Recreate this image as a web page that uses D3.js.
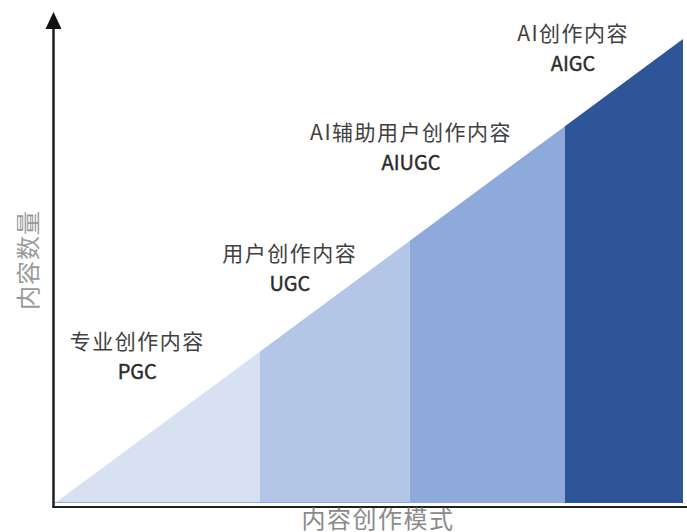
<!DOCTYPE html>
<html>
<head>
<meta charset="utf-8">
<script src="https://cdn.jsdelivr.net/npm/d3@7"></script>
<style>
  html, body { margin: 0; padding: 0; background: #fff; }
  svg { display: block; }
  text { font-family: "Noto Sans CJK SC", "Noto Sans", sans-serif; }
</style>
</head>
<body>
<div id="chart"></div>
<script>
// ---------- Data ----------
const modes = ['PGC', 'UGC', 'AIUGC', 'AIGC'];
const modeNames = ['专业创作内容', '用户创作内容', 'AI辅助用户创作内容', 'AI创作内容'];
// band edges along the "content creation mode" axis (0..100)
const bandEdges = [0, 32.6, 56.5, 81.2, 100];
// content quantity reached at each edge (grows linearly)
const quantityAtEdge = [0, 32.6, 56.5, 81.2, 100];
const bandColors = ['#d7e1f1', '#b4c6e7', '#8eaadb', '#2e5597'];
// label anchors (data units)
const labelX = [13.1, 37.4, 56.7, 82.5];
const labelY = [33.2, 52.2, 78.2, 99.6];
const xTitle = '内容创作模式';
const yTitle = '内容数量';

// ---------- Layout ----------
const W = 687, H = 532;
const svg = d3.select('#chart').append('svg').attr('width', W).attr('height', H);

const x = d3.scaleLinear().domain([0, 100]).range([55, 683]);
const y = d3.scaleLinear().domain([0, 100]).range([503, 39]);

// ---------- Bands ----------
const area = d3.area()
  .x(d => x(d.x))
  .y0(y(0))
  .y1(d => y(d.q));

const bands = modes.map((m, i) => ({
  mode: m,
  pts: [
    { x: bandEdges[i], q: quantityAtEdge[i] },
    { x: bandEdges[i + 1], q: quantityAtEdge[i + 1] }
  ]
}));

svg.append('g').selectAll('path').data(bands).join('path')
  .attr('d', d => area(d.pts))
  .attr('fill', (d, i) => bandColors[i]);

// thin base line under the fill
svg.append('line')
  .attr('x1', x(0)).attr('x2', x(bandEdges[3]))
  .attr('y1', y(0) - 0.5).attr('y2', y(0) - 0.5)
  .attr('stroke', '#8eaadb').attr('stroke-width', 1);

// ---------- Axes ----------
const axisX0 = 53.5, axisY0 = 507;
svg.append('line')
  .attr('x1', axisX0 - 1).attr('x2', W)
  .attr('y1', axisY0).attr('y2', axisY0)
  .attr('stroke', '#1e1e1e').attr('stroke-width', 2);

svg.append('line')
  .attr('x1', axisX0).attr('x2', axisX0)
  .attr('y1', axisY0 + 1).attr('y2', 26)
  .attr('stroke', '#1e1e1e').attr('stroke-width', 2.5);

svg.append('path')
  .attr('d', `M${axisX0},12 L${axisX0 - 8},29 L${axisX0 + 8},29 Z`)
  .attr('fill', '#111');

// axis titles
svg.append('text')
  .attr('transform', 'translate(37,260) rotate(-90)')
  .attr('text-anchor', 'middle')
  .attr('font-size', 24)
  .attr('letter-spacing', 1)
  .attr('fill', '#9a9a9a')
  .text(yTitle);

svg.append('text')
  .attr('x', 378).attr('y', 528)
  .attr('text-anchor', 'middle')
  .attr('font-size', 24)
  .attr('letter-spacing', 1.5)
  .attr('fill', '#8a8a8a')
  .text(xTitle);

// ---------- Labels ----------
const lab = svg.append('g').selectAll('g').data(modes).join('g')
  .attr('transform', (d, i) => `translate(${x(labelX[i])},${y(labelY[i])})`);

lab.append('text')
  .attr('text-anchor', 'middle')
  .attr('font-size', 21)
  .attr('letter-spacing', 1.5)
  .attr('fill', '#404040')
  .text((d, i) => modeNames[i]);

lab.append('text')
  .attr('y', 30)
  .attr('text-anchor', 'middle')
  .attr('font-size', 20)
  .attr('fill', '#2b2b2b')
  .attr('stroke', '#2b2b2b')
  .attr('stroke-width', 0.4)
  .text(d => d);
</script>
</body>
</html>
